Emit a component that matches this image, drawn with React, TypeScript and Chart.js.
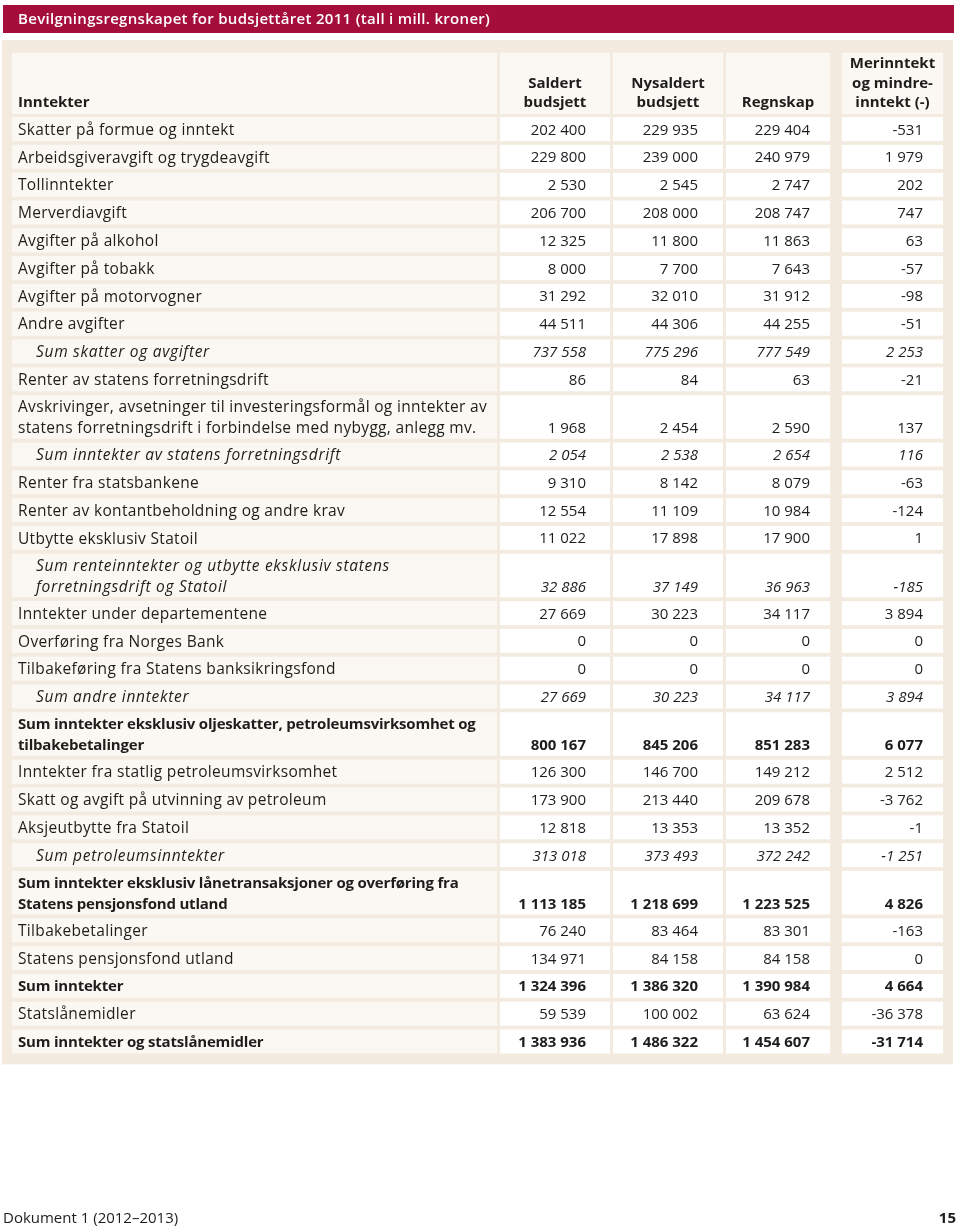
import { useEffect, useRef } from "react";
import { Chart, registerables } from "chart.js";

Chart.register(...registerables);

// ---------- DATA ----------
const title = "Bevilgningsregnskapet for budsjettåret 2011 (tall i mill. kroner)";
const stubHeader = "Inntekter";
const columnHeaders = [
  ["Saldert", "budsjett"],
  ["Nysaldert", "budsjett"],
  ["Regnskap"],
  ["Merinntekt", "og mindre-", "inntekt (-)"],
];
const footerLeft = "Dokument 1 (2012–2013)";
const footerRight = "15";

const rowLabels = [
  "Skatter på formue og inntekt",
  "Arbeidsgiveravgift og trygdeavgift",
  "Tollinntekter",
  "Merverdiavgift",
  "Avgifter på alkohol",
  "Avgifter på tobakk",
  "Avgifter på motorvogner",
  "Andre avgifter",
  "Sum skatter og avgifter",
  "Renter av statens forretningsdrift",
  "Avskrivinger, avsetninger til investeringsformål og inntekter av\nstatens forretningsdrift i forbindelse med nybygg, anlegg mv.",
  "Sum inntekter av statens forretningsdrift",
  "Renter fra statsbankene",
  "Renter av kontantbeholdning og andre krav",
  "Utbytte eksklusiv Statoil",
  "Sum renteinntekter og utbytte eksklusiv statens\nforretningsdrift og Statoil",
  "Inntekter under departementene",
  "Overføring fra Norges Bank",
  "Tilbakeføring fra Statens banksikringsfond",
  "Sum andre inntekter",
  "Sum inntekter eksklusiv oljeskatter, petroleumsvirksomhet og\ntilbakebetalinger",
  "Inntekter fra statlig petroleumsvirksomhet",
  "Skatt og avgift på utvinning av petroleum",
  "Aksjeutbytte fra Statoil",
  "Sum petroleumsinntekter",
  "Sum inntekter eksklusiv lånetransaksjoner og overføring fra\nStatens pensjonsfond utland",
  "Tilbakebetalinger",
  "Statens pensjonsfond utland",
  "Sum inntekter",
  "Statslånemidler",
  "Sum inntekter og statslånemidler",
];

// n = normal, i = italic subtotal (indented), b = bold total
const rowKinds = [
  "n", "n", "n", "n", "n", "n", "n", "n", "i", "n",
  "n", "i", "n", "n", "n", "i", "n", "n", "n", "i",
  "b", "n", "n", "n", "i", "b", "n", "n", "b", "n", "b",
];

const saldert = [
  202400, 229800, 2530, 206700, 12325, 8000, 31292, 44511, 737558, 86,
  1968, 2054, 9310, 12554, 11022, 32886, 27669, 0, 0, 27669,
  800167, 126300, 173900, 12818, 313018, 1113185, 76240, 134971, 1324396, 59539, 1383936,
];
const nysaldert = [
  229935, 239000, 2545, 208000, 11800, 7700, 32010, 44306, 775296, 84,
  2454, 2538, 8142, 11109, 17898, 37149, 30223, 0, 0, 30223,
  845206, 146700, 213440, 13353, 373493, 1218699, 83464, 84158, 1386320, 100002, 1486322,
];
const regnskap = [
  229404, 240979, 2747, 208747, 11863, 7643, 31912, 44255, 777549, 63,
  2590, 2654, 8079, 10984, 17900, 36963, 34117, 0, 0, 34117,
  851283, 149212, 209678, 13352, 372242, 1223525, 83301, 84158, 1390984, 63624, 1454607,
];
const avvik = [
  -531, 1979, 202, 747, 63, -57, -98, -51, 2253, -21,
  137, 116, -63, -124, 1, -185, 3894, 0, 0, 3894,
  6077, 2512, -3762, -1, -1251, 4826, -163, 0, 4664, -36378, -31714,
];

// ---------- LAYOUT / STYLE ----------
const W = 960;
const H = 1226;
const FONT = '"Open Sans", "Noto Sans", sans-serif';
const RED = "#A50E3B";
const PANEL = "#F3EBDF";
const LIGHT_CELL = "#FBF8F3";
const WHITE_CELL = "#FFFFFF";
const TEXT = "#1d1d1b";
const PITCH = 27.8; // px per single row
const EXTRA_LINE = 0.705; // extra row units per additional text line
const LINE_GAP = 21; // px between text lines in a cell
const CELL_INSET = 1.9;
const TEXT_SHIFT = 1.3; // baseline nudge
const BODY_TOP = 115.2;
const LABEL_COL: [number, number] = [12, 497];
const VALUE_COLS: [number, number][] = [
  [500, 610],
  [613, 723],
  [726, 830],
  [842, 943],
];
const VALUE_RIGHT = [586, 698, 810, 923];
const HEADER_TOP = 52.7;
const HEADER_BOTTOM = 114;
const LABEL_SIZE: Record<string, number> = { n: 15.5, i: 15.5, b: 15 };
const LABEL_SPACING: Record<string, string> = { n: "0.32px", i: "0.7px", b: "-0.2px" };

const valueColumns = [saldert, nysaldert, regnskap, avvik];

function fmt(v: number): string {
  const s = Math.abs(v)
    .toString()
    .replace(/\B(?=(\d{3})+(?!\d))/g, " ");
  return (v < 0 ? "-" : "") + s;
}

function fontFor(kind: string, size = 15): string {
  if (kind === "b") return `bold ${size}px ${FONT}`;
  if (kind === "i") return `italic ${size}px ${FONT}`;
  return `${size}px ${FONT}`;
}

// row structure in "row units"
const rowLines = rowLabels.map((l) => l.split("\n").length);
const rowHeights = rowLines.map((n) => 1 + (n - 1) * EXTRA_LINE);
const rowStarts: number[] = [];
{
  let acc = 0;
  rowHeights.forEach((h) => {
    rowStarts.push(acc);
    acc += h;
  });
}
const totalUnits = rowHeights.reduce((a, b) => a + b, 0);
const BODY_BOTTOM = BODY_TOP + totalUnits * PITCH;
// y (in units) of the last text line of each row – where values sit
const valueUnitY = rowLabels.map(
  (_, i) =>
    rowStarts[i] + rowHeights[i] / 2 + ((rowLines[i] - 1) * LINE_GAP) / 2 / PITCH
);

const tablePlugin = {
  id: "budgetTable",
  beforeDraw(chart: any) {
    const { ctx } = chart;
    const y = chart.scales.y;
    ctx.save();
    ctx.fillStyle = "#ffffff";
    ctx.fillRect(0, 0, W, H);

    // title bar
    ctx.fillStyle = RED;
    ctx.fillRect(3, 5, 951, 28);
    ctx.fillStyle = "#ffffff";
    ctx.font = `600 15px ${FONT}`;
    ctx.textBaseline = "middle";
    ctx.textAlign = "left";
    ctx.letterSpacing = "0.3px";
    ctx.fillText(title, 18, 20);
    ctx.letterSpacing = "0px";

    // panel
    ctx.fillStyle = PANEL;
    ctx.fillRect(2, 40, 951, BODY_BOTTOM + 9 - 40);

    // header cells
    ctx.fillStyle = LIGHT_CELL;
    ctx.fillRect(LABEL_COL[0], HEADER_TOP, LABEL_COL[1] - LABEL_COL[0], HEADER_BOTTOM - HEADER_TOP);
    VALUE_COLS.forEach(([a, b]) => {
      ctx.fillRect(a, HEADER_TOP, b - a, HEADER_BOTTOM - HEADER_TOP);
    });

    // body cells
    rowLabels.forEach((_, i) => {
      const top = y.getPixelForValue(rowStarts[i]) + CELL_INSET;
      const bot = y.getPixelForValue(rowStarts[i] + rowHeights[i]) - CELL_INSET;
      ctx.fillStyle = LIGHT_CELL;
      ctx.fillRect(LABEL_COL[0], top, LABEL_COL[1] - LABEL_COL[0], bot - top);
      ctx.fillStyle = WHITE_CELL;
      VALUE_COLS.forEach(([a, b]) => ctx.fillRect(a, top, b - a, bot - top));
    });

    // header texts
    ctx.fillStyle = TEXT;
    ctx.font = `bold 15px ${FONT}`;
    ctx.textAlign = "left";
    ctx.fillText(stubHeader, 18, 103);
    ctx.textAlign = "center";
    columnHeaders.forEach((lines, c) => {
      const cx = (VALUE_COLS[c][0] + VALUE_COLS[c][1]) / 2;
      lines.forEach((line, k) => {
        const yy = 103 - (lines.length - 1 - k) * 19.5;
        ctx.fillText(line, cx, yy);
      });
    });

    // row labels
    ctx.textAlign = "left";
    rowLabels.forEach((label, i) => {
      const kind = rowKinds[i];
      ctx.font = fontFor(kind, LABEL_SIZE[kind]);
      ctx.letterSpacing = LABEL_SPACING[kind];
      const center = y.getPixelForValue(rowStarts[i] + rowHeights[i] / 2) + TEXT_SHIFT;
      const lines = label.split("\n");
      const x0 = kind === "i" ? 36 : 18;
      lines.forEach((line, k) => {
        const yy = center + (k - (lines.length - 1) / 2) * LINE_GAP;
        ctx.fillText(line, x0, yy);
      });
    });
    ctx.letterSpacing = "0px";

    // footer
    ctx.font = `15px ${FONT}`;
    ctx.textAlign = "left";
    ctx.fillText(footerLeft, 3, 1219);
    ctx.font = `bold 15px ${FONT}`;
    ctx.textAlign = "right";
    ctx.fillText(footerRight, 956, 1219);
    ctx.restore();
  },
  afterDatasetsDraw(chart: any) {
    const { ctx } = chart;
    ctx.save();
    ctx.fillStyle = TEXT;
    ctx.textAlign = "right";
    ctx.textBaseline = "middle";
    valueColumns.forEach((values, c) => {
      const meta = chart.getDatasetMeta(c);
      meta.data.forEach((pt: any, i: number) => {
        ctx.font = fontFor(rowKinds[i]);
        ctx.fillText(fmt(values[i]), pt.x, pt.y + TEXT_SHIFT);
      });
    });
    ctx.restore();
  },
};

export default function App() {
  const ref = useRef<HTMLCanvasElement | null>(null);
  useEffect(() => {
    if (!ref.current) return;
    const chart = new Chart(ref.current, {
      type: "scatter",
      data: {
        datasets: valueColumns.map((values, c) => ({
          label: columnHeaders[c].join(" "),
          data: values.map((_, i) => ({ x: VALUE_RIGHT[c], y: valueUnitY[i] })),
          pointRadius: 0,
          pointHoverRadius: 0,
          showLine: false,
        })),
      },
      options: {
        responsive: false,
        animation: false,
        devicePixelRatio: 1,
        events: [],
        layout: {
          padding: { top: BODY_TOP, bottom: H - BODY_BOTTOM, left: 0, right: 0 },
        },
        plugins: { legend: { display: false }, tooltip: { enabled: false } },
        scales: {
          x: { type: "linear", min: 0, max: W, display: false },
          y: { type: "linear", min: 0, max: totalUnits, reverse: true, display: false },
        },
      },
      plugins: [tablePlugin],
    });
    return () => chart.destroy();
  }, []);
  return (
    <div style={{ position: "absolute", left: 0, top: 0, width: W, height: H }}>
      <canvas ref={ref} width={W} height={H} style={{ display: "block" }} />
    </div>
  );
}
